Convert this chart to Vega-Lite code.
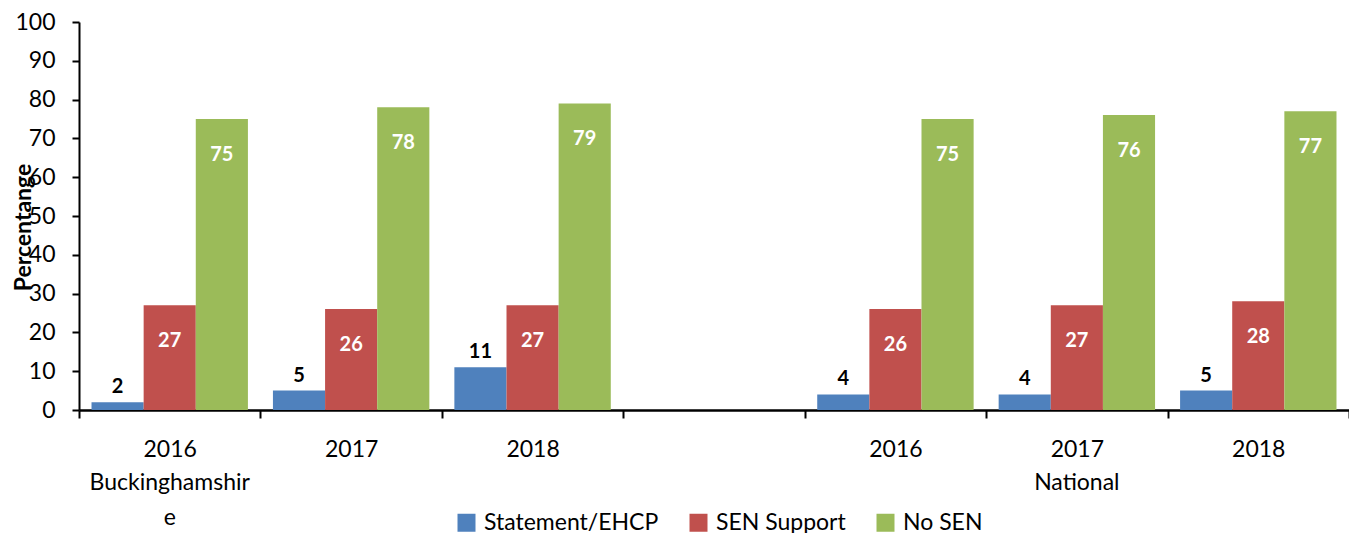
{
  "$schema": "https://vega.github.io/schema/vega-lite/v6.json",
  "width": 1270,
  "height": 388,
  "autosize": {"type": "none"},
  "padding": {"left": 79, "top": 22, "right": 0, "bottom": 123},
  "background": "white",
  "config": {
    "font": "Lato",
    "view": {"stroke": null},
    "axisY": {
      "grid": false,
      "tickCount": 10,
      "labelOverlap": false,
      "labelFlush": false,
      "labelFont": "Lato",
      "labelFontSize": 23,
      "labelColor": "black",
      "labelPadding": 17,
      "tickSize": 7,
      "tickColor": "black",
      "tickWidth": 2,
      "domainColor": "black",
      "domainWidth": 2,
      "titleFont": "Lato",
      "titleFontSize": 23,
      "titleFontWeight": "bold",
      "titleColor": "black",
      "titleAngle": -90,
      "titleAlign": "center",
      "titleBaseline": "middle",
      "titleX": -56,
      "titleY": 205
    }
  },
  "data": {
    "values": [
      {"cat": "2016", "series": "Statement/EHCP", "value": 2},
      {"cat": "2016", "series": "SEN Support", "value": 27},
      {"cat": "2016", "series": "No SEN", "value": 75},
      {"cat": "2017", "series": "Statement/EHCP", "value": 5},
      {"cat": "2017", "series": "SEN Support", "value": 26},
      {"cat": "2017", "series": "No SEN", "value": 78},
      {"cat": "2018", "series": "Statement/EHCP", "value": 11},
      {"cat": "2018", "series": "SEN Support", "value": 27},
      {"cat": "2018", "series": "No SEN", "value": 79},
      {"cat": "2016 ", "series": "Statement/EHCP", "value": 4},
      {"cat": "2016 ", "series": "SEN Support", "value": 26},
      {"cat": "2016 ", "series": "No SEN", "value": 75},
      {"cat": "2017 ", "series": "Statement/EHCP", "value": 4},
      {"cat": "2017 ", "series": "SEN Support", "value": 27},
      {"cat": "2017 ", "series": "No SEN", "value": 76},
      {"cat": "2018 ", "series": "Statement/EHCP", "value": 5},
      {"cat": "2018 ", "series": "SEN Support", "value": 28},
      {"cat": "2018 ", "series": "No SEN", "value": 77}
    ]
  },
  "encoding": {
    "x": {
      "field": "cat",
      "type": "nominal",
      "scale": {
        "domain": ["2016", "2017", "2018", " ", "2016 ", "2017 ", "2018 "],
        "paddingInner": 0,
        "paddingOuter": 0
      },
      "axis": {
        "title": null,
        "labelAngle": 0,
        "labelFont": "Lato",
        "labelFontSize": 23,
        "labelColor": "black",
        "labelPadding": 20,
        "labelOverlap": false,
        "tickBand": "extent",
        "tickSize": 8,
        "tickColor": "black",
        "tickWidth": 2,
        "domainColor": "black",
        "domainWidth": 2.5
      }
    }
  },
  "layer": [
    {
      "mark": {"type": "bar"},
      "encoding": {
        "xOffset": {
          "field": "series",
          "type": "nominal",
          "scale": {"domain": ["Statement/EHCP", "SEN Support", "No SEN"], "paddingInner": 0, "paddingOuter": 0.24}
        },
        "y": {
          "field": "value",
          "type": "quantitative",
          "title": "Percentange",
          "scale": {"domain": [0, 100], "nice": false}
        },
        "color": {
          "field": "series",
          "type": "nominal",
          "scale": {"domain": ["Statement/EHCP", "SEN Support", "No SEN"], "range": ["#4F81BD", "#C0504D", "#9BBB59"]},
          "legend": {
            "title": null,
            "orient": "none",
            "legendX": 376,
            "legendY": 489,
            "direction": "horizontal",
            "symbolType": "square",
            "symbolSize": 324,
            "symbolStrokeWidth": 0,
            "symbolOpacity": 1,
            "labelFont": "Lato",
            "labelFontSize": 23,
            "labelColor": "black",
            "labelOffset": 6,
            "columnPadding": 28,
            "labelLimit": 400
          }
        }
      }
    },
    {
      "transform": [{"filter": "datum.series == 'Statement/EHCP'"}],
      "mark": {"type": "text", "baseline": "bottom", "dy": -5, "font": "Lato", "fontSize": 20, "fontWeight": "bold", "color": "black"},
      "encoding": {
        "xOffset": {"field": "series", "type": "nominal", "scale": {"domain": ["Statement/EHCP", "SEN Support", "No SEN"], "paddingInner": 0, "paddingOuter": 0.24}},
        "y": {"field": "value", "type": "quantitative", "title": "Percentange"},
        "text": {"field": "value", "type": "quantitative"}
      }
    },
    {
      "transform": [{"filter": "datum.series != 'Statement/EHCP'"}],
      "mark": {"type": "text", "baseline": "middle", "dy": 36, "font": "Lato", "fontSize": 20, "fontWeight": "bold", "color": "white"},
      "encoding": {
        "xOffset": {"field": "series", "type": "nominal", "scale": {"domain": ["Statement/EHCP", "SEN Support", "No SEN"], "paddingInner": 0, "paddingOuter": 0.24}},
        "y": {"field": "value", "type": "quantitative", "title": "Percentange"},
        "text": {"field": "value", "type": "quantitative"}
      }
    },
    {
      "data": {
        "values": [
          {"cat": "2016", "group": "Buckinghamshir\ne"},
          {"cat": "2017 ", "group": "National"}
        ]
      },
      "mark": {"type": "text", "baseline": "top", "lineBreak": "\n", "lineHeight": 35, "font": "Lato", "fontSize": 23, "color": "black"},
      "encoding": {
        "y": {"datum": -16, "type": "quantitative", "title": "Percentange"},
        "text": {"field": "group", "type": "nominal"}
      }
    }
  ]
}
